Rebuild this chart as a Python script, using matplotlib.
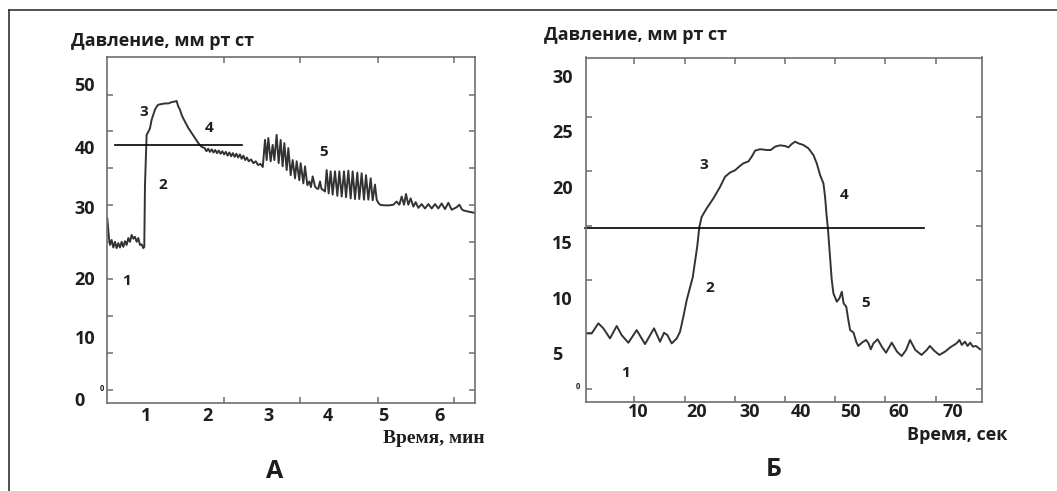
import matplotlib.pyplot as plt
from matplotlib.lines import Line2D

plt.rcParams['font.family'] = ['Open Sans', 'DejaVu Sans']

# ---- данные: панель А (время, мин / давление, мм рт ст)
time_a = [0.341, 0.37, 0.387, 0.415, 0.443, 0.472, 0.50, 0.528, 0.557, 0.585, 0.614, 0.642, 0.67, 0.699,
          0.727, 0.756, 0.784, 0.812, 0.841, 0.869, 0.898, 0.926, 0.954, 0.971, 0.983, 1.011, 1.04, 1.068,
          1.096, 1.125, 1.153, 1.182, 1.21, 1.267, 1.323, 1.38, 1.437, 1.494, 1.522, 1.55, 1.579, 1.607,
          1.636, 1.664, 1.693, 1.721, 1.778, 1.835, 1.891, 1.948,
          2.0, 2.03, 2.06, 2.09, 2.12, 2.15, 2.18, 2.21, 2.24, 2.27, 2.30, 2.33, 2.36, 2.39, 2.42, 2.45,
          2.48, 2.51, 2.54, 2.57, 2.60, 2.63, 2.66, 2.69, 2.72, 2.75, 2.79, 2.83, 2.87, 2.91, 2.95, 2.99,
          3.028, 3.056, 3.084, 3.124, 3.158, 3.187, 3.226, 3.26, 3.294, 3.328, 3.357, 3.397, 3.425, 3.465,
          3.499, 3.539, 3.567, 3.612, 3.635, 3.681, 3.709, 3.749, 3.783, 3.81, 3.84, 3.879, 3.908, 3.935,
          3.965, 3.99, 4.01, 4.05,
          4.078, 4.112, 4.146, 4.18, 4.22, 4.26, 4.294, 4.334, 4.373, 4.408, 4.447, 4.487, 4.521, 4.561,
          4.6, 4.634, 4.674, 4.714, 4.748, 4.788, 4.828, 4.862, 4.901, 4.93, 4.958, 4.987,
          5.05, 5.15, 5.214, 5.27, 5.316, 5.356, 5.396, 5.43, 5.469, 5.509, 5.555, 5.594, 5.64, 5.696,
          5.753, 5.81, 5.867, 5.924, 5.98, 6.037, 6.094, 6.151, 6.208, 6.25, 6.293, 6.338, 6.38, 6.406,
          6.491, 6.605]
press_a = [28.6, 25.5, 24.4, 25.2, 24.0, 24.9, 23.9, 24.7, 24.0, 24.9, 24.1, 25.0, 24.4, 25.5,
           24.9, 26.0, 25.4, 25.7, 24.9, 25.5, 24.4, 24.5, 23.9, 24.1, 33.9, 41.9, 42.4, 42.95,
           44.3, 45.1, 45.9, 46.4, 46.7, 46.8, 46.9, 46.9, 47.1, 47.2, 47.3, 46.4, 45.9, 45.1,
           44.5, 44.0, 43.5, 43.0, 42.2, 41.4, 40.6, 40.0,
           39.8, 39.3, 39.7, 39.2, 39.6, 39.1, 39.5, 39.0, 39.4, 38.9, 39.3, 38.8, 39.2, 38.6, 39.1, 38.5,
           39.0, 38.4, 38.9, 38.3, 38.8, 38.1, 38.6, 37.9, 38.3, 37.7, 38.0, 37.4, 37.7, 37.1, 37.3, 36.8,
           41.1, 37.9, 41.4, 37.7, 40.3, 37.9, 41.9, 37.4, 41.1, 36.9, 40.6, 36.3, 39.8, 35.5,
           37.9, 35.0, 37.7, 34.7, 37.4, 34.2, 36.9, 33.9, 34.5, 33.6, 35.3, 33.7, 33.4, 33.3,
           34.5, 33.3, 33.2, 32.9,
           36.3, 32.6, 36.1, 32.4, 36.1, 32.2, 36.1, 32.1, 36.1, 32.0, 36.2, 31.8, 36.1, 31.7,
           35.9, 31.7, 35.8, 31.6, 35.5, 31.6, 35.0, 31.5, 34.0, 31.6, 31.1, 30.8,
           30.7, 30.7, 30.8, 31.3, 30.8, 32.1, 30.8, 32.5, 30.8, 31.8, 30.5, 31.2, 30.3, 30.9,
           30.2, 30.9, 30.2, 30.9, 30.2, 31.0, 30.1, 31.1, 30.0, 30.2, 30.4, 30.8, 30.1, 29.9,
           29.7, 29.5]
level_a = 40.3
level_a_span = [0.47, 2.63]

# ---- данные: панель Б (время, сек / давление, мм рт ст)
time_b = [0.07, 1.03, 2.30, 3.26, 4.53, 5.81, 6.76, 8.04, 9.63, 11.23, 12.95, 14.1, 14.86, 15.5, 16.33,
          17.29, 17.92, 18.56, 19.2, 20.35, 21.2, 21.62, 22.06, 23.02, 24.3, 25.57, 26.53, 27.5, 28.44,
          29.4, 30.03, 31.0, 31.63, 32.27, 33.22, 34.5, 35.26, 36.09, 37.05, 38.0, 38.64, 39.28, 39.92,
          40.55, 41.51, 42.47, 43.42, 44.06, 44.7, 45.34, 45.65, 45.97, 46.17, 46.48, 46.93, 47.25, 47.9,
          48.4, 48.85, 49.2, 49.7, 50.1, 50.44, 51.1, 51.6, 52.0, 52.7, 53.5, 53.95, 54.4, 54.9, 55.7,
          56.5, 57.3, 58.4, 59.4, 60.3, 61.15, 61.9, 62.9, 64.1, 65.1, 65.7, 66.5, 67.5, 68.6, 69.6,
          70.3, 70.8, 71.35, 71.8, 72.4, 72.9, 73.4, 73.9, 74.5, 75.3]
press_b = [6.79, 6.79, 7.70, 7.25, 6.34, 7.46, 6.64, 5.95, 7.09, 5.83, 7.25, 6.04, 6.85, 6.64, 5.89,
           6.34, 6.94, 8.3, 9.8, 11.85, 14.6, 16.4, 17.3, 18.07, 18.97, 20.0, 20.92, 21.3, 21.5,
           21.9, 22.13, 22.3, 22.73, 23.27, 23.4, 23.33, 23.33, 23.63, 23.75, 23.69, 23.57, 23.87, 24.08,
           23.93, 23.78, 23.48, 22.88, 22.13, 21.07, 20.32, 19.12, 17.3, 16.4, 14.46, 11.6, 10.4, 9.65,
           9.95, 10.55, 9.5, 9.2, 8.0, 7.1, 6.86, 6.05, 5.66, 5.96, 6.2, 5.9, 5.36, 5.9, 6.26,
           5.6, 5.05, 5.96, 5.15, 4.75, 5.3, 6.2, 5.3, 4.85, 5.3, 5.66, 5.24, 4.85, 5.15, 5.54,
           5.75, 5.9, 6.2, 5.75, 6.05, 5.66, 5.96, 5.6, 5.66, 5.36]
level_b = 16.3
level_b_span = [-0.3, 64.6]

# подписи
ylabel_txt = "Давление, мм рт ст"
xt_a = ['1', '2', '3', '4', '5', '6']
yt_a = ['50', '40', '30', '20', '10', '0']
xt_b = ['10', '20', '30', '40', '50', '60', '70']
yt_b = ['30', '25', '20', '15', '10', '5']
phase_labels = ['1', '2', '3', '4', '5']

# ---- раскладка (положения подписей и засечек на исходной картинке)
xt_a_pos = [1.0, 2.05, 3.08, 4.1, 5.05, 6.0]
yt_a_pos = [49.96, 39.9, 30.5, 19.2, 9.7, -0.06]
xt_b_pos = [10.0, 21.0, 31.2, 41.1, 50.4, 59.8, 70.0]
yt_b_pos = [30, 25, 20, 15, 10, 5]
ticks_a_x = [1.0, 2.33, 3.63, 4.95, 6.25]
ticks_a_y = [1.27, 7.2, 13.1, 19.0, 24.9, 30.8, 36.6, 42.5, 48.3]
ticks_b_x = [9.2, 18.9, 28.5, 38.0, 47.6, 57.2, 66.9]
ticks_b_y = [1.8, 6.8, 11.6, 16.5, 21.4, 26.3]
phase_a_pos = [(0.66, 18.6), (1.29, 33.9), (0.96, 45.5), (2.07, 43.0), (4.03, 39.1)]
phase_b_pos = [(7.5, 3.2), (23.7, 10.9), (22.4, 22.0), (49.25, 19.3), (53.5, 9.5)]

W, H = 1057, 491
fig = plt.figure(figsize=(W / 100, H / 100), dpi=100)

txt_col = '#1e1e1e'
ax_col = '#6e6e6e'
line_col = '#333333'


def setup(ax, xlim, ylim, xpos, xlab, ypos, ylab, tx, ty, xpad, ypad):
    ax.set_xlim(*xlim)
    ax.set_ylim(*ylim)
    for s in ax.spines.values():
        s.set_color(ax_col)
        s.set_linewidth(1.2)
    ax.set_xticks(xpos, labels=xlab)
    ax.set_yticks(ypos, labels=ylab)
    ax.set_xticks(tx, minor=True)
    ax.set_yticks(ty, minor=True)
    ax.tick_params(which='major', length=0, labelsize=13, colors=txt_col)
    ax.tick_params(axis='x', which='major', pad=xpad)
    ax.tick_params(axis='y', which='major', pad=ypad)
    ax.tick_params(which='minor', direction='in', length=4, width=1.1, color=ax_col,
                   top=True, right=True)
    for lb in ax.get_xticklabels() + ax.get_yticklabels():
        lb.set_fontweight('bold')
    for lb in ax.get_yticklabels():
        lb.set_horizontalalignment('left')


# ---- панель А
ax1 = fig.add_axes([107 / W, 1 - 402.5 / H, 368 / W, 345 / H])
ax1.plot(time_a, press_a, color=line_col, lw=1.4)
ax1.plot(level_a_span, [level_a, level_a], color='black', lw=1.2)
setup(ax1, (0.336, 6.605), (-0.64, 54.2), xt_a_pos, xt_a, yt_a_pos, yt_a,
      ticks_a_x, ticks_a_y, 3.5, 23.4)
for lab, (x, y) in zip(phase_labels, phase_a_pos):
    ax1.text(x, y, lab, fontsize=11, fontweight='bold', color=txt_col, ha='center', va='center')

# ---- панель Б
ax2 = fig.add_axes([586.3 / W, 1 - 402.3 / H, 395.4 / W, 344.8 / H])
ax2.plot(time_b, press_b, color=line_col, lw=1.4)
ax2.plot(level_b_span, [level_b, level_b], color='black', lw=1.2, clip_on=False)
setup(ax2, (0, 75.6), (0.58, 31.67), xt_b_pos, xt_b, yt_b_pos, yt_b,
      ticks_b_x, ticks_b_y, 0.3, 24.5)
for lab, (x, y) in zip(phase_labels, phase_b_pos):
    ax2.text(x, y, lab, fontsize=11, fontweight='bold', color=txt_col, ha='center', va='center')

# заголовки осей
fig.text(71 / W, 1 - 40.5 / H, ylabel_txt, fontsize=13, fontweight='bold', color=txt_col,
         ha='left', va='center')
fig.text(544 / W, 1 - 35.5 / H, ylabel_txt, fontsize=13, fontweight='bold', color=txt_col,
         ha='left', va='center')
fig.text(383 / W, 1 - 438.6 / H, "Время, мин", fontsize=14, fontweight='bold',
         family=['Liberation Serif', 'DejaVu Serif'], color=txt_col, ha='left', va='center')
fig.text(907 / W, 1 - 435 / H, "Время, сек", fontsize=13, fontweight='bold', color=txt_col,
         ha='left', va='center')
fig.text(275 / W, 1 - 471 / H, "А", fontsize=18, fontweight='bold', color=txt_col,
         ha='center', va='center')
fig.text(774 / W, 1 - 470 / H, "Б", fontsize=18, fontweight='bold', color=txt_col,
         ha='center', va='center')
# мелкие нули у нижних засечек
fig.text(101.4 / W, 1 - 388.7 / H, "0", fontsize=5.5, fontweight='bold', color=txt_col,
         ha='center', va='center')
fig.text(577.9 / W, 1 - 386.8 / H, "0", fontsize=5.5, fontweight='bold', color=txt_col,
         ha='center', va='center')

# рамка вокруг рисунка
fig.add_artist(Line2D([9 / W, 1.0], [1 - 10 / H, 1 - 10 / H], color='#333333', lw=1.2))
fig.add_artist(Line2D([9 / W, 9 / W], [1 - 10 / H, 0.0], color='#333333', lw=1.2))

fig.savefig('out.png', dpi=100, facecolor='white')
